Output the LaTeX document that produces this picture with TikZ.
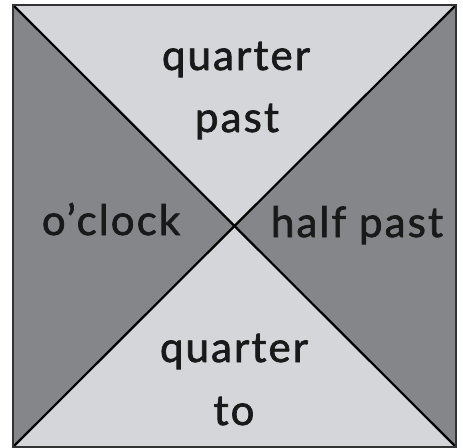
\documentclass[tikz,border=0pt]{standalone}
\usepackage{fontspec}
\setmainfont{Lato}
\newfontfamily\lblfont[FakeBold=1.6,LetterSpace=5]{Lato}
\definecolor{lightpart}{RGB}{212,214,217}
\definecolor{darkpart}{RGB}{132,134,137}
\definecolor{inkc}{RGB}{25,25,25}
\tikzset{
  lbl/.style={font=\lblfont\fontsize{42}{48}\selectfont, text=inkc, anchor=base, inner sep=0pt},
  diag/.style={draw=black, line width=2.2pt},
  frame/.style={draw=black!80, line width=1.8pt}
}
\begin{document}
\begin{tikzpicture}[x=1pt,y=-1pt]
\useasboundingbox (0,0) rectangle (463,447);
\coordinate (tl) at (13,5);
\coordinate (tr) at (456,5);
\coordinate (br) at (456,447);
\coordinate (bl) at (13,447);
\coordinate (c) at (234.5,226);
\fill[lightpart] (tl) -- (tr) -- (c) -- cycle;
\fill[lightpart] (bl) -- (br) -- (c) -- cycle;
\fill[darkpart] (tl) -- (bl) -- (c) -- cycle;
\fill[darkpart] (tr) -- (br) -- (c) -- cycle;
\draw[diag] (tl) -- (br);
\draw[diag] (tr) -- (bl);
\draw[frame] (tl) rectangle (br);
\node[lbl] (qp1) at (236,70) {quarter};
\node[lbl] (qp2) at (237,132) {past};
\node[lbl] (oc) at (111,235) {o’clock};
\node[lbl] (hp) at (357,237) {half past};
\node[lbl] (qt1) at (234,362) {quarter};
\node[lbl] (qt2) at (234,425) {to};
\end{tikzpicture}
\end{document}
